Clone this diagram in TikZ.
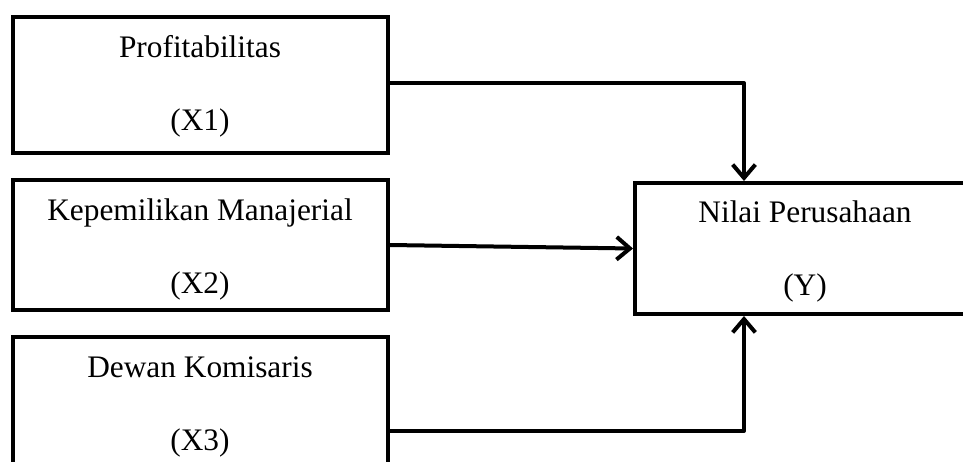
\documentclass[tikz,border=0pt]{standalone}
\usepackage{fontspec}
\setmainfont{Liberation Serif}
\usetikzlibrary{arrows.meta}
\tikzset{
  varbox/.style={draw=black, line width=3pt, rectangle, inner sep=0pt, fill=white},
  vartext/.style={anchor=base, inner sep=0pt, font=\fontsize{23.5pt}{28pt}\selectfont},
  conn/.style={draw=black, line width=3pt, line join=round,
    -{Straight Barb[length=10pt,width=17pt,line width=3pt]}}
}
\begin{document}
\begin{tikzpicture}[x=0.75pt,y=-0.75pt]
\useasboundingbox (0,0) rectangle (963,461);
\clip (0,0) rectangle (963,461);
\fill[white] (0,0) rectangle (963,461);
% boxes
\node[varbox, minimum width=281.25pt, minimum height=102pt] (b1) at (200.5,85) {};
\node[varbox, minimum width=281.25pt, minimum height=97.5pt] (b2) at (200.5,245) {};
\node[varbox, minimum width=281.25pt, minimum height=102pt] (b3) at (200.5,405) {};
\node[varbox, minimum width=253.5pt, minimum height=98.25pt] (yb) at (804,248.5) {};
% texts
\node[vartext] (t1a) at (200,57) {Profitabilitas};
\node[vartext] (t1b) at (200,130) {(X1)};
\node[vartext] (t2a) at (200,220) {Kepemilikan Manajerial};
\node[vartext] (t2b) at (200,293) {(X2)};
\node[vartext] (t3a) at (200,377) {Dewan Komisaris};
\node[vartext] (t3b) at (200,450) {(X3)};
\node[vartext] (tya) at (805,222) {Nilai Perusahaan};
\node[vartext] (tyb) at (805,295) {(Y)};
% connectors
\draw[conn] ([yshift=1.5pt]b1.east) -| ([xshift=-45pt]yb.north);
\draw[conn] (b2.east) -- (yb.west);
\draw[conn] ([yshift=-19.5pt]b3.east) -| ([xshift=-45pt]yb.south);
\end{tikzpicture}
\end{document}
